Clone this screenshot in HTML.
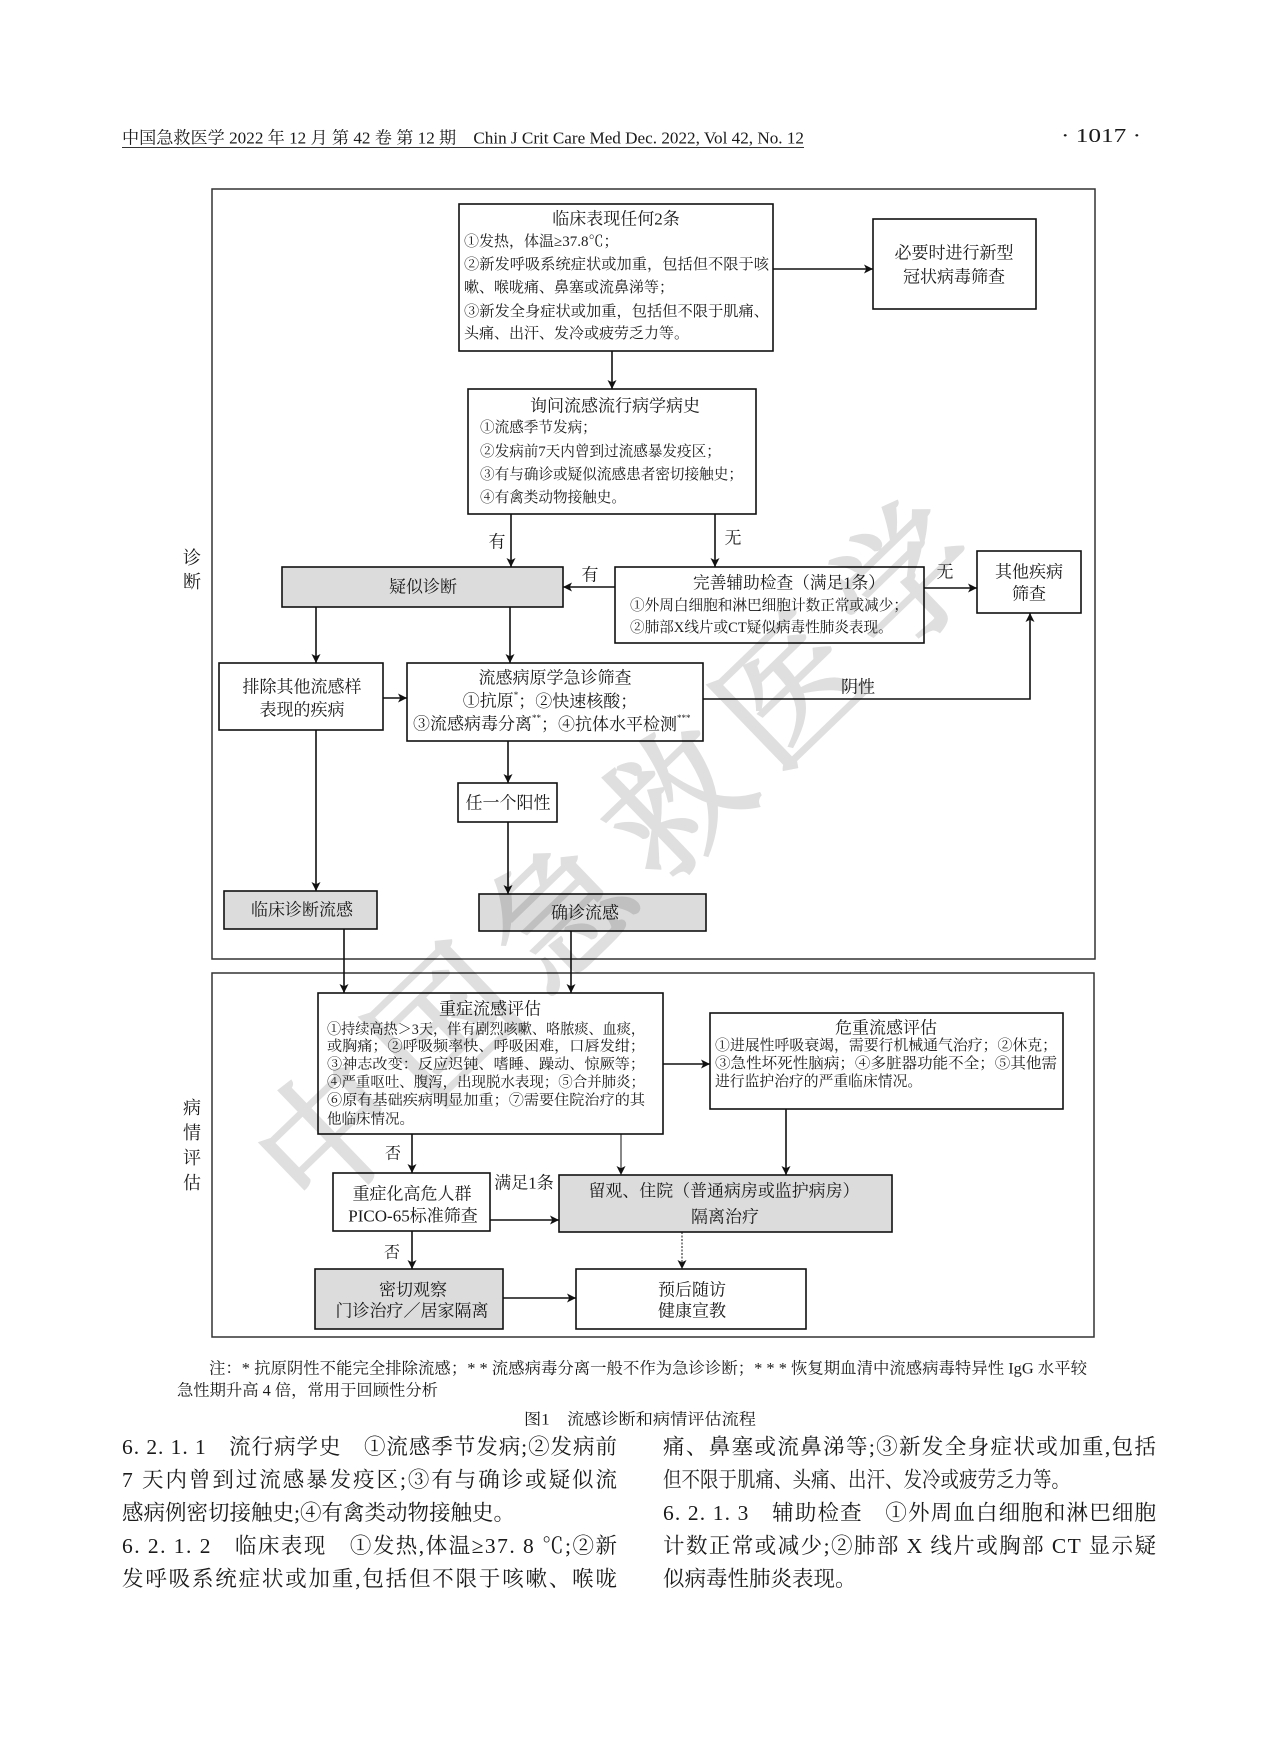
<!DOCTYPE html>
<html><head><meta charset="utf-8"><style>
html,body{margin:0;padding:0;background:#fff;}
svg{display:block;}
text{font-family:"Liberation Serif","Noto Serif CJK SC",serif;fill:#1a1a1a;}
</style></head><body>
<svg width="1280" height="1737" viewBox="0 0 1280 1737" xmlns="http://www.w3.org/2000/svg">
<defs>
<marker id="a" viewBox="0 0 10 10" refX="10" refY="5" markerWidth="10" markerHeight="9" markerUnits="userSpaceOnUse" orient="auto"><path d="M0,0 L10,5 L0,10 L2.5,5 z" fill="#111"/></marker>
</defs>
<rect width="1280" height="1737" fill="#fff"/>

<!-- header -->
<text x="122" y="138" font-size="17" dominant-baseline="central" textLength="682" lengthAdjust="spacingAndGlyphs">中国急救医学 2022 年 12 月 第 42 卷 第 12 期　Chin J Crit Care Med Dec. 2022, Vol 42, No. 12</text>
<line x1="122" y1="147.5" x2="804" y2="147.5" stroke="#333" stroke-width="1"/>
<text x="1061" y="136" font-size="20" dominant-baseline="central" textLength="80" lengthAdjust="spacingAndGlyphs">· 1017 ·</text>

<!-- frames -->
<rect x="212" y="189" width="883" height="770" fill="none" stroke="#333" stroke-width="1.5"/>
<rect x="212" y="973" width="882" height="364" fill="none" stroke="#333" stroke-width="1.5"/>

<g font-size="18" dominant-baseline="central" text-anchor="middle">
<text x="192" y="558">诊</text>
<text x="192" y="582">断</text>
<text x="192" y="1108">病</text>
<text x="192" y="1133">情</text>
<text x="192" y="1158">评</text>
<text x="192" y="1183">估</text>
</g>

<!-- boxes -->
<g stroke="#111" stroke-width="1.6" fill="#fff">
<rect x="459" y="204" width="314" height="147"/>
<rect x="468" y="389" width="288" height="125"/>
<rect x="873" y="219" width="163" height="90"/>
<rect x="282" y="567" width="281" height="40" fill="#dcdcdc"/>
<rect x="615" y="567" width="309" height="76"/>
<rect x="977" y="551" width="104" height="62"/>
<rect x="219" y="663" width="164" height="67"/>
<rect x="407" y="663" width="296" height="78"/>
<rect x="458" y="783" width="99" height="39"/>
<rect x="224" y="891" width="153" height="38" fill="#dcdcdc"/>
<rect x="479" y="894" width="227" height="37" fill="#dcdcdc"/>
<rect x="318" y="993" width="345" height="141"/>
<rect x="710" y="1013" width="353" height="96"/>
<rect x="333" y="1173" width="157" height="58"/>
<rect x="559" y="1175" width="333" height="57" fill="#dcdcdc"/>
<rect x="315" y="1269" width="188" height="60" fill="#dcdcdc"/>
<rect x="576" y="1269" width="230" height="60"/>
</g>

<!-- connectors -->
<g stroke="#111" stroke-width="1.6" fill="none" marker-end="url(#a)">
<path d="M612,351 V389"/>
<path d="M773,269 H873"/>
<path d="M511,514 V567"/>
<path d="M715,514 V567"/>
<path d="M615,587 H563"/>
<path d="M924,588 H977"/>
<path d="M316,607 V663"/>
<path d="M510,607 V663"/>
<path d="M383,698 H407"/>
<path d="M703,699 H1030 V613"/>
<path d="M508,741 V783"/>
<path d="M508,822 V894"/>
<path d="M316,730 V891"/>
<path d="M344,929 V993"/>
<path d="M571,931 V993"/>
<path d="M663,1064 H710"/>
<path d="M412,1134 V1173"/>
<path d="M621,1134 V1175" stroke-width="1"/>
<path d="M786,1109 V1175"/>
<path d="M490,1220 H559"/>
<path d="M682,1232 V1269" stroke-width="1" stroke-dasharray="2,1.5"/>
<path d="M412,1231 V1269"/>
<path d="M503,1298 H576"/>
</g>

<!-- connector labels -->
<g font-size="17" dominant-baseline="central" text-anchor="middle">
<text x="497" y="542">有</text>
<text x="733" y="538">无</text>
<text x="590" y="575">有</text>
<text x="945" y="572">无</text>
<text x="858" y="687">阴性</text>
<text x="393" y="1154" font-size="16">否</text>
<text x="392" y="1253" font-size="16">否</text>
<text x="524" y="1183">满足1条</text>
</g>

<!-- box text -->
<g dominant-baseline="central">
<text x="616" y="219" font-size="17" text-anchor="middle">临床表现任何2条</text>
<text x="464" y="242" font-size="15">①发热，体温≥37.8℃；</text>
<text x="464" y="265" font-size="15" textLength="305" lengthAdjust="spacingAndGlyphs">②新发呼吸系统症状或加重，包括但不限于咳</text>
<text x="464" y="288" font-size="15">嗽、喉咙痛、鼻塞或流鼻涕等；</text>
<text x="464" y="312" font-size="15" textLength="305" lengthAdjust="spacingAndGlyphs">③新发全身症状或加重，包括但不限于肌痛、</text>
<text x="464" y="334" font-size="15">头痛、出汗、发冷或疲劳乏力等。</text>

<text x="615" y="406" font-size="17" text-anchor="middle">询问流感流行病学病史</text>
<text x="480" y="428" font-size="14.6">①流感季节发病；</text>
<text x="480" y="452" font-size="14.6">②发病前7天内曾到过流感暴发疫区；</text>
<text x="480" y="475" font-size="14.6" textLength="263" lengthAdjust="spacingAndGlyphs">③有与确诊或疑似流感患者密切接触史；</text>
<text x="480" y="498" font-size="14.6">④有禽类动物接触史。</text>

<text x="954" y="253" font-size="17" text-anchor="middle">必要时进行新型</text>
<text x="954" y="277" font-size="17" text-anchor="middle">冠状病毒筛查</text>

<text x="423" y="587" font-size="17" text-anchor="middle">疑似诊断</text>

<text x="789" y="583" font-size="17" text-anchor="middle" textLength="192" lengthAdjust="spacingAndGlyphs">完善辅助检查（满足1条）</text>
<text x="630" y="606" font-size="14.6" textLength="278" lengthAdjust="spacingAndGlyphs">①外周白细胞和淋巴细胞计数正常或减少；</text>
<text x="630" y="628" font-size="14.6">②肺部X线片或CT疑似病毒性肺炎表现。</text>

<text x="1029" y="572" font-size="17" text-anchor="middle">其他疾病</text>
<text x="1029" y="594" font-size="17" text-anchor="middle">筛查</text>

<text x="302" y="687" font-size="17" text-anchor="middle">排除其他流感样</text>
<text x="302" y="710" font-size="17" text-anchor="middle">表现的疾病</text>

<text x="555" y="678" font-size="17" text-anchor="middle">流感病原学急诊筛查</text>
<text x="550" y="701" font-size="17" text-anchor="middle">①抗原<tspan font-size="9" dy="-6">*</tspan><tspan dy="6">；②快速核酸；</tspan></text>
<text x="413" y="724" font-size="17">③流感病毒分离<tspan font-size="9" dy="-6">**</tspan><tspan dy="6">；④抗体水平检测</tspan><tspan font-size="9" dy="-6">***</tspan></text>

<text x="508" y="803" font-size="17" text-anchor="middle">任一个阳性</text>
<text x="302" y="910" font-size="17" text-anchor="middle">临床诊断流感</text>
<text x="585" y="913" font-size="17" text-anchor="middle">确诊流感</text>

<text x="490" y="1009" font-size="17" text-anchor="middle">重症流感评估</text>
<text x="327" y="1030" font-size="14.5" textLength="318" lengthAdjust="spacingAndGlyphs">①持续高热＞3天，伴有剧烈咳嗽、咯脓痰、血痰，</text>
<text x="327" y="1047" font-size="14.5" textLength="318" lengthAdjust="spacingAndGlyphs">或胸痛；②呼吸频率快、呼吸困难，口唇发绀；</text>
<text x="327" y="1065" font-size="14.5" textLength="318" lengthAdjust="spacingAndGlyphs">③神志改变：反应迟钝、嗜睡、躁动、惊厥等；</text>
<text x="327" y="1083" font-size="14.5" textLength="318" lengthAdjust="spacingAndGlyphs">④严重呕吐、腹泻，出现脱水表现；⑤合并肺炎；</text>
<text x="327" y="1101" font-size="14.5" textLength="318" lengthAdjust="spacingAndGlyphs">⑥原有基础疾病明显加重；⑦需要住院治疗的其</text>
<text x="327" y="1120" font-size="14.5">他临床情况。</text>

<text x="886" y="1028" font-size="17" text-anchor="middle">危重流感评估</text>
<text x="715" y="1046" font-size="14.8" textLength="342" lengthAdjust="spacingAndGlyphs">①进展性呼吸衰竭，需要行机械通气治疗；②休克；</text>
<text x="715" y="1064" font-size="14.8" textLength="342" lengthAdjust="spacingAndGlyphs">③急性坏死性脑病；④多脏器功能不全；⑤其他需</text>
<text x="715" y="1082" font-size="14.8">进行监护治疗的严重临床情况。</text>

<text x="412" y="1194" font-size="17" text-anchor="middle">重症化高危人群</text>
<text x="413" y="1216" font-size="17" text-anchor="middle">PICO-65标准筛查</text>

<text x="724" y="1191" font-size="17" text-anchor="middle" textLength="271" lengthAdjust="spacingAndGlyphs">留观、住院（普通病房或监护病房）</text>
<text x="725" y="1217" font-size="17" text-anchor="middle">隔离治疗</text>

<text x="413" y="1290" font-size="17" text-anchor="middle">密切观察</text>
<text x="412" y="1311" font-size="17" text-anchor="middle">门诊治疗／居家隔离</text>

<text x="692" y="1290" font-size="17" text-anchor="middle">预后随访</text>
<text x="692" y="1311" font-size="17" text-anchor="middle">健康宣教</text>
</g>

<!-- watermark -->
<text x="0" y="0" transform="translate(620,860) rotate(-44)" font-size="140" text-anchor="middle" dominant-baseline="central" textLength="940" lengthAdjust="spacing" style="fill:#000;opacity:0.12;stroke:#000;stroke-width:3">中国急救医学</text>

<!-- notes & caption -->
<g dominant-baseline="central">
<text x="209" y="1369" font-size="16" textLength="878" lengthAdjust="spacingAndGlyphs">注：* 抗原阴性不能完全排除流感；* * 流感病毒分离一般不作为急诊诊断；* * * 恢复期血清中流感病毒特异性 IgG 水平较</text>
<text x="177" y="1391" font-size="16" textLength="261" lengthAdjust="spacingAndGlyphs">急性期升高 4 倍，常用于回顾性分析</text>
<text x="524" y="1420" font-size="16" textLength="232" lengthAdjust="spacingAndGlyphs">图1　流感诊断和病情评估流程</text>
</g>

<!-- body text -->
<g dominant-baseline="central" font-size="21.5">
<text x="122" y="1447" textLength="495" lengthAdjust="spacing">6. 2. 1. 1　流行病学史　①流感季节发病;②发病前</text>
<text x="122" y="1480" textLength="495" lengthAdjust="spacing">7 天内曾到过流感暴发疫区;③有与确诊或疑似流</text>
<text x="122" y="1513">感病例密切接触史;④有禽类动物接触史。</text>
<text x="122" y="1546" textLength="495" lengthAdjust="spacing">6. 2. 1. 2　临床表现　①发热,体温≥37. 8 ℃;②新</text>
<text x="122" y="1579" textLength="495" lengthAdjust="spacing">发呼吸系统症状或加重,包括但不限于咳嗽、喉咙</text>

<text x="663" y="1447" textLength="493" lengthAdjust="spacing">痛、鼻塞或流鼻涕等;③新发全身症状或加重,包括</text>
<text x="663" y="1480" textLength="407" lengthAdjust="spacingAndGlyphs">但不限于肌痛、头痛、出汗、发冷或疲劳乏力等。</text>
<text x="663" y="1513" textLength="493" lengthAdjust="spacing">6. 2. 1. 3　辅助检查　①外周血白细胞和淋巴细胞</text>
<text x="663" y="1546" textLength="493" lengthAdjust="spacing">计数正常或减少;②肺部 X 线片或胸部 CT 显示疑</text>
<text x="663" y="1579">似病毒性肺炎表现。</text>
</g>
</svg>
</body></html>
